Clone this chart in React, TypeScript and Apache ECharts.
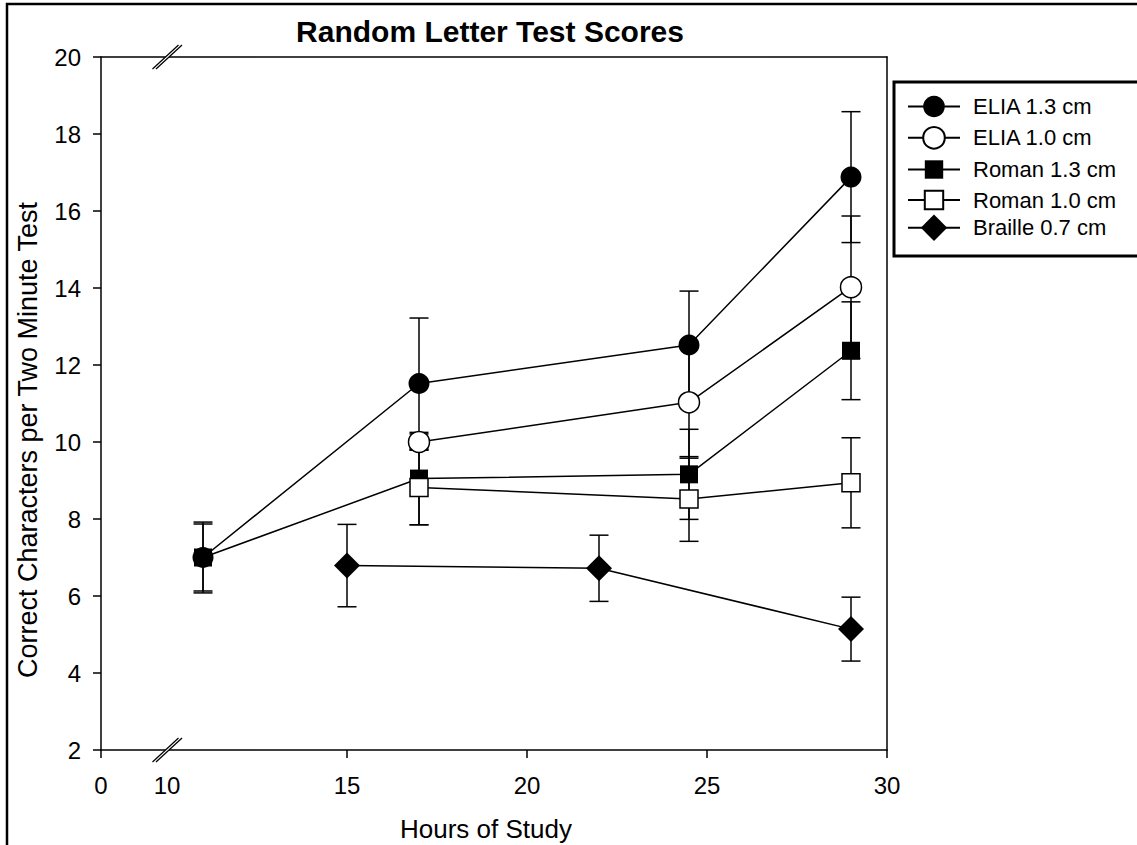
import React, { useEffect, useRef } from 'react';
import * as echarts from 'echarts';

const FONT = '"Liberation Sans", Arial, Helvetica, sans-serif';

const seriesNames = ['ELIA 1.3 cm', 'ELIA 1.0 cm', 'Roman 1.3 cm', 'Roman 1.0 cm', 'Braille 0.7 cm'];

const elia13Hours = [11, 17, 24.5, 29];
const elia13Scores = [7.0, 11.52, 12.52, 16.88];
const elia13Err = [0.92, 1.7, 1.4, 1.7];

const elia10Hours = [17, 24.5, 29];
const elia10Scores = [10.0, 11.03, 14.02];
const elia10Err = [0.21, 1.45, 1.85];

const roman13Hours = [11, 17, 24.5, 29];
const roman13Scores = [7.0, 9.05, 9.16, 12.37];
const roman13Err = [0.87, 1.2, 1.17, 1.27];

const roman10Hours = [17, 24.5, 29];
const roman10Scores = [8.82, 8.52, 8.94];
const roman10Err = [0.97, 1.1, 1.17];

const brailleHours = [15, 22, 29];
const brailleScores = [6.79, 6.72, 5.14];
const brailleErr = [1.07, 0.86, 0.83];

const leftTickLabels = [0];
const rightTickLabels = [10, 15, 20, 25, 30];
const rightTicks = [15, 20, 25, 30];

const titleText = 'Random Letter Test Scores';
const xTitle = 'Hours of Study';
const yTitle = 'Correct Characters per Two Minute Test';

const groups = [
  { name: seriesNames[0], hours: elia13Hours, scores: elia13Scores, err: elia13Err, symbol: 'circle', size: 21, legendSize: 27, fill: '#000' },
  { name: seriesNames[1], hours: elia10Hours, scores: elia10Scores, err: elia10Err, symbol: 'circle', size: 21, legendSize: 27, fill: '#fff' },
  { name: seriesNames[2], hours: roman13Hours, scores: roman13Scores, err: roman13Err, symbol: 'rect', size: 18, legendSize: 23, fill: '#000' },
  { name: seriesNames[3], hours: roman10Hours, scores: roman10Scores, err: roman10Err, symbol: 'rect', size: 18, legendSize: 23, fill: '#fff' },
  { name: seriesNames[4], hours: brailleHours, scores: brailleScores, err: brailleErr, symbol: 'diamond', size: 26, legendSize: 33, fill: '#000' },
];

const renderErrorBar = (params: any, api: any) => {
  const x = api.value(0);
  const lo = api.coord([x, api.value(1)]);
  const hi = api.coord([x, api.value(2)]);
  const cap = 9.5;
  const style = { stroke: '#000', lineWidth: 1.5 };
  return {
    type: 'group',
    children: [
      { type: 'line', shape: { x1: hi[0], y1: hi[1], x2: lo[0], y2: lo[1] }, style },
      { type: 'line', shape: { x1: hi[0] - cap, y1: hi[1], x2: hi[0] + cap, y2: hi[1] }, style },
      { type: 'line', shape: { x1: lo[0] - cap, y1: lo[1], x2: lo[0] + cap, y2: lo[1] }, style },
    ],
  };
};

const breakMark = (cx: number, cy: number) => [
  {
    type: 'polygon',
    z: 100,
    silent: true,
    shape: { points: [[cx - 13, cy + 12], [cx + 13, cy - 12], [cx + 16.5, cy - 12], [cx - 9.5, cy + 12]] },
    style: { fill: '#fff' },
  },
  { type: 'line', z: 101, silent: true, shape: { x1: cx - 13, y1: cy + 12, x2: cx + 13, y2: cy - 12 }, style: { stroke: '#000', lineWidth: 1.2 } },
  { type: 'line', z: 101, silent: true, shape: { x1: cx - 9.5, y1: cy + 12, x2: cx + 16.5, y2: cy - 12 }, style: { stroke: '#000', lineWidth: 1.2 } },
];

const axisLineStyle = { show: true, lineStyle: { color: '#000', width: 1.5 } };
const labelStyle = { color: '#000', fontSize: 24, fontFamily: FONT };

export default function App() {
  const ref = useRef<HTMLDivElement>(null);
  useEffect(() => {
    const chart = echarts.init(ref.current!, null, { renderer: 'svg' });
    const lineSeries = groups.map((g) => ({
      type: 'line',
      name: g.name,
      xAxisIndex: 2,
      yAxisIndex: 1,
      data: g.hours.map((h, i) => [h, g.scores[i]]),
      symbol: g.symbol,
      symbolSize: g.size,
      showSymbol: true,
      showAllSymbol: true,
      lineStyle: { color: '#000', width: 1.5 },
      itemStyle: { color: g.fill, borderColor: '#000', borderWidth: g.fill === '#fff' ? 1.5 : 0, opacity: 1 },
      z: 3,
      silent: true,
      emphasis: { disabled: true },
    }));
    const errSeries = groups.map((g) => ({
      type: 'custom',
      xAxisIndex: 2,
      yAxisIndex: 1,
      z: 2,
      silent: true,
      data: g.hours.map((h, i) => [h, g.scores[i] - g.err[i], g.scores[i] + g.err[i]]),
      encode: { x: 0, y: [1, 2] },
      renderItem: renderErrorBar,
    }));
    const legends = groups.map((g, i) => ({
      data: [g.name],
      orient: 'vertical',
      left: 907,
      top: 109 + i * 30.5 - g.legendSize / 2,
      padding: 0,
      itemWidth: 52,
      itemHeight: g.legendSize,
      selectedMode: false,
      textStyle: { color: '#000', fontSize: 22, fontFamily: FONT, padding: [0, 0, 0, 8] },
    }));
    const option: any = {
      animation: false,
      backgroundColor: '#fff',
      textStyle: { fontFamily: FONT },
      grid: [
        { left: 101, top: 57, width: 66, height: 693, outerBoundsMode: 'none' },
        { left: 167, top: 57, width: 720, height: 693, outerBoundsMode: 'none' },
      ],
      xAxis: [
        {
          gridIndex: 0, type: 'value', position: 'bottom', min: 0, max: 10, interval: 10,
          axisLine: axisLineStyle,
          axisTick: { show: true, length: 8, lineStyle: { color: '#000', width: 1.5 }, customValues: [0] },
          axisLabel: { ...labelStyle, margin: 23, customValues: leftTickLabels },
          splitLine: { show: false },
        },
        {
          gridIndex: 0, type: 'value', position: 'top', min: 0, max: 10,
          axisLine: axisLineStyle, axisTick: { show: false }, axisLabel: { show: false }, splitLine: { show: false },
        },
        {
          gridIndex: 1, type: 'value', position: 'bottom', min: 10, max: 30, interval: 5,
          axisLine: axisLineStyle,
          axisTick: { show: true, length: 8, lineStyle: { color: '#000', width: 1.5 }, customValues: rightTicks },
          axisLabel: { ...labelStyle, margin: 23, customValues: rightTickLabels },
          splitLine: { show: false },
        },
        {
          gridIndex: 1, type: 'value', position: 'top', min: 10, max: 30,
          axisLine: axisLineStyle, axisTick: { show: false }, axisLabel: { show: false }, splitLine: { show: false },
        },
      ],
      yAxis: [
        {
          gridIndex: 0, type: 'value', position: 'left', min: 2, max: 20, interval: 2,
          axisLine: axisLineStyle,
          axisTick: { show: true, length: 8, lineStyle: { color: '#000', width: 1.5 } },
          axisLabel: { ...labelStyle, margin: 20 },
          splitLine: { show: false },
        },
        {
          gridIndex: 1, type: 'value', position: 'right', min: 2, max: 20, interval: 2,
          axisLine: axisLineStyle, axisTick: { show: false }, axisLabel: { show: false }, splitLine: { show: false },
        },
      ],
      legend: legends,
      graphic: [
        { type: 'rect', z: 100, silent: true, shape: { x: 7, y: 4, width: 1300, height: 1000 }, style: { fill: 'none', stroke: '#000', lineWidth: 2.5 } },
        { type: 'rect', z: 100, silent: true, shape: { x: 894, y: 82, width: 400, height: 174 }, style: { fill: 'none', stroke: '#000', lineWidth: 3 } },
        ...breakMark(165.5, 57),
        ...breakMark(165.5, 750),
        { type: 'text', z: 100, silent: true, x: 490, y: 31, style: { text: titleText, fontSize: 30, fontWeight: 'bold', fontFamily: FONT, fill: '#000', textAlign: 'center', textVerticalAlign: 'middle' } },
        { type: 'text', z: 100, silent: true, x: 486, y: 829, style: { text: xTitle, fontSize: 26, fontFamily: FONT, fill: '#000', textAlign: 'center', textVerticalAlign: 'middle' } },
        { type: 'text', z: 100, silent: true, x: 28, y: 440, rotation: Math.PI / 2, style: { text: yTitle, fontSize: 27, fontFamily: FONT, fill: '#000', textAlign: 'center', textVerticalAlign: 'middle' } },
      ],
      series: [...errSeries, ...lineSeries],
    };
    chart.setOption(option);
    return () => chart.dispose();
  }, []);
  return <div ref={ref} style={{ position: 'absolute', left: 0, top: 0, width: 1137, height: 845, background: '#fff' }} />;
}
